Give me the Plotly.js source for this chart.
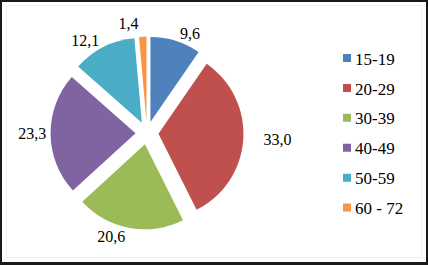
<!DOCTYPE html>
<html><head><meta charset="utf-8">
<script src="https://cdn.plot.ly/plotly-3.0.1.min.js"></script>
<style>
html,body{margin:0;padding:0;background:#fff;}
#wrap{position:relative;width:428px;height:265px;overflow:hidden;}
#chart{position:absolute;left:0;top:0;width:428px;height:265px;}
#inner{position:absolute;left:6px;top:5px;right:6px;bottom:7px;border:1px solid #efefef;pointer-events:none;}
#frame{position:absolute;left:0;top:0;width:428px;height:265px;box-sizing:border-box;border:2px solid #1a1a1a;border-bottom-width:3px;pointer-events:none;}
</style></head>
<body><div id="wrap"><div id="chart"></div><div id="inner"></div><div id="frame"></div></div>
<script>
const categories = ['15-19', '20-29', '30-39', '40-49', '50-59', '60 - 72'];
const shares = [9.6, 33.0, 20.6, 23.3, 12.1, 1.4];
const sliceColors = ['#4F81BD', '#C0504D', '#9BBB59', '#8064A2', '#4BACC6', '#F79646'];

const SERIF = 'Liberation Serif, Times New Roman, serif';
const legendLabels = categories.map(c => '<span style="font-size:17px">' + c + '</span>');
// extra gap before the right-hand label, like the reference's label placement
const labelTemplates = shares.map((v, i) => (i === 1 ? '\u00a0\u00a0\u00a0\u00a0' : '') + '%{value:.1f}');

const trace = {
  type: 'pie',
  labels: legendLabels,
  values: shares,
  sort: false,
  direction: 'clockwise',
  rotation: 0,
  pull: 0.135,
  marker: {colors: sliceColors, line: {width: 0}},
  texttemplate: labelTemplates,
  textposition: 'outside',
  textfont: {family: SERIF, size: 16, color: '#000'},
  outsidetextfont: {family: SERIF, size: 16, color: '#000'},
  automargin: false,
  hoverinfo: 'none',
  domain: {x: [0.118, 0.569], y: [0.134, 0.862]}
};

const layout = {
  width: 428, height: 265,
  margin: {l: 0, r: 0, t: 0, b: 0},
  paper_bgcolor: '#fff',
  font: {family: SERIF},
  separators: ', ',
  showlegend: true,
  legend: {
    x: 0.736, xanchor: 'left', y: 0.862, yanchor: 'top',
    font: {family: SERIF, size: 20.7, color: '#000'},
    bgcolor: 'rgba(0,0,0,0)', borderwidth: 0
  }
};

Plotly.newPlot('chart', [trace], layout, {displayModeBar: false, staticPlot: true}).then(gd => {
  gd.querySelectorAll('path.legendpie').forEach(p => p.setAttribute('d', 'M8,5.5H16V-2.5H8Z'));
  gd.querySelectorAll('path.textline').forEach(p => p.style.display = 'none');
});
</script>
</body></html>
